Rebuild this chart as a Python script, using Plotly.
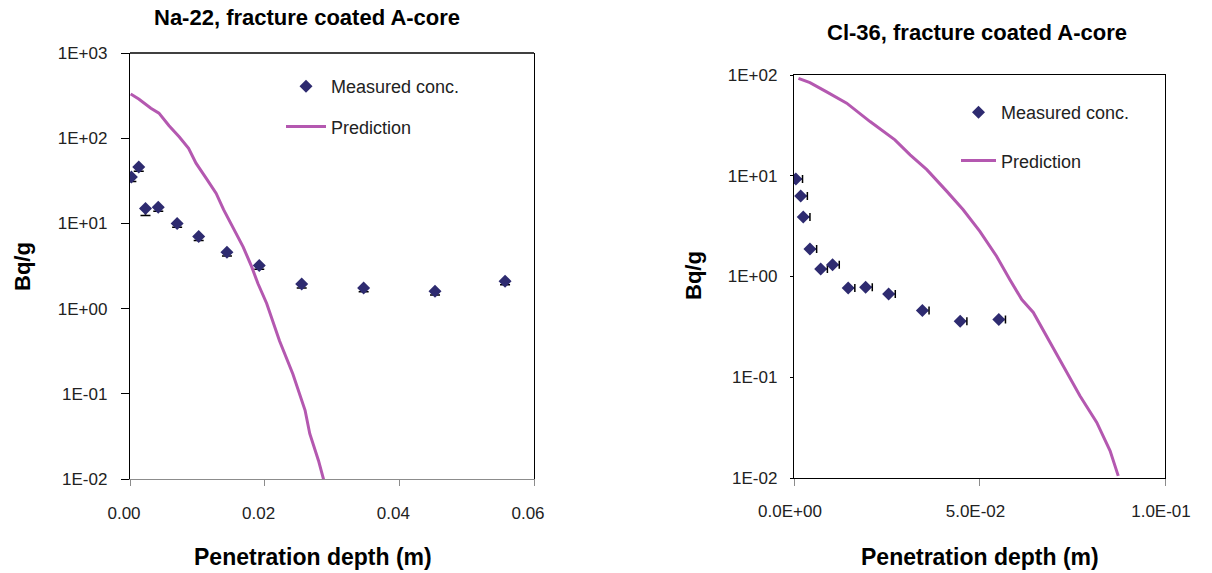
import plotly.graph_objects as go

# ---- Na-22, fracture coated A-core ----
na_depth = [0.0002, 0.0013, 0.0023, 0.0042, 0.0070, 0.0102, 0.0144, 0.0192,
            0.0255, 0.0347, 0.0453, 0.0557]
na_conc = [35, 46, 15, 15.5, 10, 7.0, 4.6, 3.2, 1.95, 1.75, 1.6, 2.1]
na_err = [4, 5, 2.6, 1.6, 1.0, 0.7, 0.45, 0.3, 0.2, 0.17, 0.16, 0.2]

na_pred_depth = [0.0001, 0.0013, 0.0031, 0.0043, 0.0058, 0.0073, 0.0087, 0.0098,
                 0.0113, 0.0128, 0.0139, 0.0153, 0.0168, 0.0180, 0.0190, 0.0203,
                 0.0212, 0.0222, 0.0242, 0.0260, 0.0267, 0.0280, 0.0292]
na_pred = [330, 288, 225, 197, 140, 104, 76, 51, 34, 22.5, 14.5, 9.1, 5.3, 3.2,
           1.97, 1.15, 0.73, 0.42, 0.17, 0.064, 0.034, 0.0164, 0.0073]

# ---- Cl-36, fracture coated A-core ----
cl_depth = [0.0005, 0.0018, 0.0025, 0.0043, 0.0072, 0.0104, 0.0146, 0.0193,
            0.0255, 0.0346, 0.0448, 0.0552]
cl_conc = [9.3, 6.3, 3.9, 1.88, 1.19, 1.31, 0.77, 0.78, 0.67, 0.46, 0.36, 0.375]
cl_err = [0.0018] * 12

cl_pred_depth = [0.0012, 0.0043, 0.0088, 0.0142, 0.0205, 0.0272, 0.0313, 0.0358,
                 0.0412, 0.0456, 0.0501, 0.0546, 0.0582, 0.0614, 0.0645, 0.0681,
                 0.0726, 0.0771, 0.0816, 0.0852, 0.0874]
cl_pred = [92.7, 84, 68, 52.5, 34.5, 22.7, 16.1, 11.5, 7.0, 4.6, 2.8, 1.59, 0.93,
           0.59, 0.44, 0.256, 0.129, 0.065, 0.0356, 0.0186, 0.0105]

# tick labels
na_yticks = [0.01, 0.1, 1, 10, 100, 1000]
na_ytext = ["1E-02", "1E-01", "1E+00", "1E+01", "1E+02", "1E+03"]
na_xticks = [0.0, 0.02, 0.04, 0.06]
na_xtext = ["0.00", "0.02", "0.04", "0.06"]
cl_yticks = [0.01, 0.1, 1, 10, 100]
cl_ytext = ["1E-02", "1E-01", "1E+00", "1E+01", "1E+02"]
cl_xticks = [0.0, 0.05, 0.1]
cl_xtext = ["0.0E+00", "5.0E-02", "1.0E-01"]

MARKER = "#2E2B70"
PRED = "#B458B0"
FONT = "Liberation Sans, Arial, sans-serif"

W, H = 1212, 573


def px_x(p):
    return p / W


def px_y(p):
    return 1 - p / H


fig = go.Figure()

fig.add_trace(go.Scatter(
    x=na_depth, y=na_conc, mode="markers", name="Measured conc.",
    marker=dict(symbol="diamond", size=10, color=MARKER),
    error_y=dict(type="data", symmetric=False, array=[0] * len(na_err),
                 arrayminus=na_err, color="black", thickness=1.5, width=5),
    xaxis="x", yaxis="y", legend="legend", legendgroup="m1",
))
fig.add_trace(go.Scatter(
    x=na_pred_depth, y=na_pred, mode="lines", name="Prediction",
    line=dict(color=PRED, width=3),
    xaxis="x", yaxis="y", legend="legend", legendgroup="p1",
))
fig.add_trace(go.Scatter(
    x=cl_depth, y=cl_conc, mode="markers", name="Measured conc.",
    marker=dict(symbol="diamond", size=10, color=MARKER),
    error_x=dict(type="data", symmetric=False, array=cl_err,
                 arrayminus=[0] * len(cl_err), color="black", thickness=1.5, width=4),
    xaxis="x2", yaxis="y2", legend="legend2", legendgroup="m2",
))
fig.add_trace(go.Scatter(
    x=cl_pred_depth, y=cl_pred, mode="lines", name="Prediction",
    line=dict(color=PRED, width=3),
    xaxis="x2", yaxis="y2", legend="legend2", legendgroup="p2",
))

tickfont = dict(family=FONT, size=17, color="#222222")

fig.update_layout(
    width=W, height=H,
    margin=dict(l=0, r=0, t=0, b=0, autoexpand=False),
    paper_bgcolor="white", plot_bgcolor="white",
    font=dict(family=FONT, color="black"),
    xaxis=dict(
        domain=[px_x(130), px_x(534)], range=[0, 0.06],
        tickvals=na_xticks, ticktext=na_xtext, tickfont=tickfont,
        showline=True, linecolor="#8C8C8C", linewidth=1.3, mirror=False,
        ticks="outside", ticklen=6, tickcolor="#8C8C8C", tickwidth=1.3,
        ticklabelstandoff=12, ticklabelshift=-6, automargin=False,
        showgrid=False, zeroline=False, anchor="y",
    ),
    yaxis=dict(
        domain=[px_y(479), px_y(53)], type="log", range=[-2, 3],
        tickvals=na_yticks, ticktext=na_ytext, tickfont=tickfont,
        showline=True, linecolor="black", linewidth=1.3, mirror=True,
        ticks="outside", ticklen=8, tickcolor="black", tickwidth=1.3,
        ticklabelstandoff=10, automargin=False,
        showgrid=False, zeroline=False, anchor="x",
    ),
    xaxis2=dict(
        domain=[px_x(794), px_x(1165)], range=[0, 0.1],
        tickvals=cl_xticks, ticktext=cl_xtext, tickfont=tickfont,
        showline=True, linecolor="black", linewidth=1.3, mirror=True,
        ticks="outside", ticklen=7, tickcolor="#8C8C8C", tickwidth=1.3,
        ticklabelstandoff=10, ticklabelshift=-4, automargin=False,
        showgrid=False, zeroline=False, anchor="y2",
    ),
    yaxis2=dict(
        domain=[px_y(478), px_y(75)], type="log", range=[-2, 2],
        tickvals=cl_yticks, ticktext=cl_ytext, tickfont=tickfont,
        showline=True, linecolor="black", linewidth=1.3, mirror=True,
        ticks="outside", ticklen=3, tickcolor="black", tickwidth=1.3,
        ticklabelstandoff=9, automargin=False,
        showgrid=False, zeroline=False, anchor="x2",
    ),
    legend=dict(
        x=px_x(281), y=px_y(68), xanchor="left", yanchor="top",
        bgcolor="rgba(0,0,0,0)", font=dict(family=FONT, size=18, color="#222222"),
        tracegroupgap=14, itemwidth=40, itemclick=False,
    ),
    legend2=dict(
        x=px_x(956), y=px_y(94), xanchor="left", yanchor="top",
        bgcolor="rgba(0,0,0,0)", font=dict(family=FONT, size=18, color="#222222"),
        tracegroupgap=22, itemwidth=35, itemclick=False,
    ),
    showlegend=True,
)

# top border of the Na-22 frame
fig.add_shape(type="line", xref="x domain", yref="y domain",
              x0=0, x1=1, y0=1, y1=1, line=dict(color="black", width=1.3))

title_font = dict(family=FONT, size=22, color="black")
axis_title_font = dict(family=FONT, size=23, color="black")
ylab_font = dict(family=FONT, size=22, color="black")

annotations = [
    dict(text="<b>Na-22, fracture coated A-core</b>", x=px_x(152), y=px_y(17),
         xanchor="left", font=title_font),
    dict(text="<b>Cl-36, fracture coated A-core</b>", x=px_x(977), y=px_y(32),
         xanchor="center", font=title_font),
    dict(text="<b>Penetration depth (m)</b>", x=px_x(313), y=px_y(557),
         xanchor="center", font=axis_title_font),
    dict(text="<b>Penetration depth (m)</b>", x=px_x(980), y=px_y(557),
         xanchor="center", font=axis_title_font),
    dict(text="<b>Bq/g</b>", x=px_x(22), y=px_y(267), textangle=-90,
         xanchor="center", font=ylab_font),
    dict(text="<b>Bq/g</b>", x=px_x(693), y=px_y(275), textangle=-90,
         xanchor="center", font=ylab_font),
]
for a in annotations:
    fig.add_annotation(xref="paper", yref="paper", showarrow=False,
                       yanchor="middle", **a)

fig.write_html("out.html")
